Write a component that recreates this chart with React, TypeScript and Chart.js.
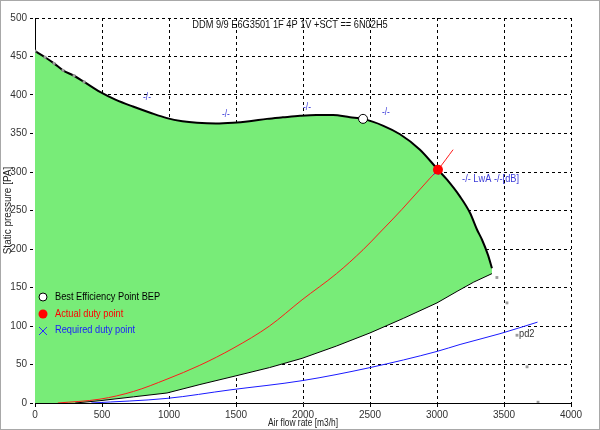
import React, { useEffect, useRef } from "react";
import { Chart, registerables } from "chart.js";

Chart.register(...registerables);

const FONT = "'Liberation Sans', Arial, sans-serif";
const SQUEEZE = 0.84;

// Fan curve at max speed (upper edge of the working area)
const upperQ = [0, 75, 142, 209, 291, 366, 485, 600, 731, 860, 985, 1100, 1209, 1350, 1478, 1600, 1731, 1850, 1978, 2100, 2224, 2351, 2448, 2600, 2724, 2873, 3007, 3075, 3172, 3246, 3299, 3336, 3381, 3410];
const upperP = [457, 449, 441, 432, 425, 417, 404, 394, 385, 377, 370, 366, 364, 363, 364, 366, 369, 371, 373, 374, 374, 371, 369, 360, 349, 329, 303, 290, 268, 247, 225, 212, 192, 175];

// Lower edge of the working area (from right end back to the origin)
const lowerQ = [3410, 3274, 3150, 3000, 2750, 2500, 2250, 1993, 1750, 1493, 1231, 985, 735, 485, 300];
const lowerP = [168, 157, 145, 130, 110, 91, 74, 58, 46, 35, 24, 13, 8, 3, 0];

// System curve through the actual duty point (red)
const systemQ = [170, 485, 735, 985, 1230, 1478, 1750, 1993, 2250, 2448, 2577, 2736, 2948, 3007, 3120];
const systemP = [0, 5, 15, 31, 49, 71, 100, 134, 168, 199, 222, 251, 292, 303, 329];

// Required curve (blue)
const requiredQ = [420, 985, 1455, 1993, 2500, 3000, 3172, 3470, 3750];
const requiredP = [0, 6, 17, 29, 46, 67, 76, 90, 105];

// Measured points (grey squares)
const measuredQ = [0, 75, 142, 209, 291, 366, 3447, 3522, 3597, 3672, 3754];
const measuredP = [457, 449, 441, 432, 425, 417, 163, 130, 88, 47, 1];

// Special points
const bepQ = [2448];
const bepP = [369];
const actualQ = [3007];
const actualP = [303];
const requiredPtQ = [2995];
const requiredPtP = [300];

// Annotations
const curveLabels = ["-/-", "-/-", "-/-", "-/-"];
const curveLabelQ = [836, 1425, 2030, 2619];
const curveLabelP = [397, 375, 384, 378];
const noiseLabel = "-/- LwA -/-[dB]";
const noiseLabelQ = 3187;
const noiseLabelP = 291;
const pointLabel = "pd2";
const pointLabelQ = 3612;
const pointLabelP = 90;

const titleText = "DDM 9/9 E6G3501 1F 4P 1V +SCT == 6N02H5";
const xTitle = "Air flow rate [m3/h]";
const yTitle = "Static pressure [PA]";
const legendItems = ["Best Efficiency Point BEP", "Actual duty point", "Required duty point"];

const xMin = 0, xMax = 4000, xStep = 500;
const yMin = 0, yMax = 500, yStep = 50;

const toXY = (q: number[], p: number[]) => q.map((v, i) => ({ x: v, y: p[i] }));

const GREEN = "#78ec78";

function squeezedText(ctx: CanvasRenderingContext2D, text: string, x: number, y: number, align: CanvasTextAlign) {
  ctx.save();
  ctx.translate(x, y);
  ctx.scale(SQUEEZE, 1);
  ctx.textAlign = align;
  ctx.fillText(text, 0, 0);
  ctx.restore();
}

const overlayPlugin = {
  id: "overlay",
  afterDraw(chart: any) {
    const ctx = chart.ctx as CanvasRenderingContext2D;
    const xs = chart.scales.x;
    const ys = chart.scales.y;
    ctx.save();
    // outer frame
    ctx.strokeStyle = "#a8a8a8";
    ctx.lineWidth = 1;
    ctx.strokeRect(0.5, 0.5, chart.width - 1, chart.height - 1);

    ctx.textBaseline = "middle";
    // title
    ctx.fillStyle = "#111";
    ctx.font = `11px ${FONT}`;
    squeezedText(ctx, titleText, 290, 25, "center");

    // curve labels
    ctx.fillStyle = "#3a3ad8";
    ctx.font = `10px ${FONT}`;
    curveLabels.forEach((t, i) => {
      squeezedText(ctx, t, xs.getPixelForValue(curveLabelQ[i]), ys.getPixelForValue(curveLabelP[i]), "center");
    });
    ctx.font = `11px ${FONT}`;
    squeezedText(ctx, noiseLabel, xs.getPixelForValue(noiseLabelQ), ys.getPixelForValue(noiseLabelP), "left");
    ctx.fillStyle = "#333";
    squeezedText(ctx, pointLabel, xs.getPixelForValue(pointLabelQ), ys.getPixelForValue(pointLabelP), "left");

    // axis title (x)
    ctx.fillStyle = "#222";
    ctx.font = `10px ${FONT}`;
    squeezedText(ctx, xTitle, (chart.chartArea.left + chart.chartArea.right) / 2, 423, "center");

    // legend
    const lx = 43;
    const ly = [297, 314, 331];
    ctx.font = `11px ${FONT}`;
    ctx.textBaseline = "middle";
    // BEP marker
    ctx.beginPath();
    ctx.arc(lx, ly[0], 4, 0, Math.PI * 2);
    ctx.fillStyle = "#fff";
    ctx.fill();
    ctx.strokeStyle = "#000";
    ctx.lineWidth = 1;
    ctx.stroke();
    ctx.fillStyle = "#000";
    squeezedText(ctx, legendItems[0], 55, ly[0], "left");
    // Actual duty marker
    ctx.beginPath();
    ctx.arc(lx, ly[1], 4.5, 0, Math.PI * 2);
    ctx.fillStyle = "#ff0000";
    ctx.fill();
    squeezedText(ctx, legendItems[1], 55, ly[1], "left");
    // Required marker
    ctx.strokeStyle = "#2a2aff";
    ctx.beginPath();
    ctx.moveTo(lx - 4, ly[2] - 4);
    ctx.lineTo(lx + 4, ly[2] + 4);
    ctx.moveTo(lx + 4, ly[2] - 4);
    ctx.lineTo(lx - 4, ly[2] + 4);
    ctx.stroke();
    ctx.fillStyle = "#1a1aff";
    squeezedText(ctx, legendItems[2], 55, ly[2] - 1, "left");
    ctx.restore();
  },
};

export default function App() {
  const ref = useRef<HTMLCanvasElement | null>(null);

  useEffect(() => {
    const canvas = ref.current;
    if (!canvas) return;
    const polygon = [...toXY(upperQ, upperP), ...toXY(lowerQ, lowerP), { x: 0, y: 0 }];
    const tickFont = { family: FONT, size: 10 };
    const chart = new Chart(canvas, {
      type: "scatter",
      data: {
        datasets: [
          {
            label: "area",
            data: polygon,
            showLine: true,
            fill: "shape",
            backgroundColor: GREEN,
            borderColor: "rgba(0,0,0,0)",
            borderWidth: 0,
            pointRadius: 0,
            tension: 0,
            order: 20,
          } as any,
          {
            label: "lower",
            data: toXY(lowerQ, lowerP),
            showLine: true,
            borderColor: "#000",
            borderWidth: 1,
            pointRadius: 0,
            fill: false,
            order: 10,
          },
          {
            label: "upper",
            data: toXY(upperQ, upperP),
            showLine: true,
            borderColor: "#000",
            borderWidth: 2,
            pointRadius: 0,
            fill: false,
            cubicInterpolationMode: "monotone",
            order: 9,
          },
          {
            label: "system",
            data: toXY(systemQ, systemP),
            showLine: true,
            borderColor: "#ff1a1a",
            borderWidth: 1,
            pointRadius: 0,
            fill: false,
            cubicInterpolationMode: "monotone",
            order: 8,
          },
          {
            label: "required",
            data: toXY(requiredQ, requiredP),
            showLine: true,
            borderColor: "#1a1aff",
            borderWidth: 1,
            pointRadius: 0,
            fill: false,
            cubicInterpolationMode: "monotone",
            order: 7,
          },
          {
            label: "measured",
            data: toXY(measuredQ, measuredP),
            showLine: false,
            pointStyle: "rect",
            pointRadius: 2,
            backgroundColor: "#9c9c9c",
            borderColor: "#9c9c9c",
            borderWidth: 0,
            order: 6,
          },
          {
            label: "requiredPt",
            data: toXY(requiredPtQ, requiredPtP),
            showLine: false,
            pointStyle: "crossRot",
            pointRadius: 4,
            borderColor: "#2a2aff",
            borderWidth: 1,
            order: 5,
          },
          {
            label: "actual",
            data: toXY(actualQ, actualP),
            showLine: false,
            pointStyle: "circle",
            pointRadius: 5,
            backgroundColor: "#ff0000",
            borderColor: "#ff0000",
            borderWidth: 0,
            order: 4,
          },
          {
            label: "bep",
            data: toXY(bepQ, bepP),
            showLine: false,
            pointStyle: "circle",
            pointRadius: 4.5,
            backgroundColor: "#ffffff",
            borderColor: "#000",
            borderWidth: 1,
            order: 3,
          },
        ],
      },
      options: {
        animation: false,
        responsive: false,
        maintainAspectRatio: false,
        events: [],
        layout: { padding: { top: 18, right: 29, left: 0, bottom: 0 } },
        plugins: {
          legend: { display: false },
          tooltip: { enabled: false },
          title: { display: false },
        },
        scales: {
          x: {
            type: "linear",
            position: "bottom",
            min: xMin,
            max: xMax,
            z: 1,
            ticks: {
              stepSize: xStep,
              color: "#333",
              font: tickFont,
              padding: 2,
              maxRotation: 0,
              autoSkip: false,
              callback: (v: any) => String(v),
            },
            grid: { color: "#000", lineWidth: 1, tickLength: 4, tickColor: "#000", tickBorderDash: [3, 3] },
            border: { display: true, color: "#000", width: 1, dash: [3, 3] },
            title: { display: false },
            afterFit: (s: any) => {
              s.height = 27;
            },
          },
          y: {
            type: "linear",
            min: yMin,
            max: yMax,
            z: 1,
            ticks: {
              stepSize: yStep,
              color: "#333",
              font: tickFont,
              padding: 3,
              autoSkip: false,
              callback: (v: any) => String(v),
            },
            grid: { color: "#000", lineWidth: 1, tickLength: 5, tickColor: "#000", tickBorderDash: [3, 3] },
            border: { display: true, color: "#000", width: 1, dash: [3, 3] },
            title: { display: true, text: yTitle, color: "#222", font: { family: FONT, size: 10 }, padding: { top: 2, bottom: 0 } },
            afterFit: (s: any) => {
              s.width = 35;
            },
          },
        },
      } as any,
      plugins: [overlayPlugin],
    });
    return () => chart.destroy();
  }, []);

  return (
    <div style={{ position: "fixed", left: 0, top: 0, width: 600, height: 430, background: "#fff" }}>
      <canvas ref={ref} width={600} height={430} style={{ display: "block", width: 600, height: 430 }} />
    </div>
  );
}
